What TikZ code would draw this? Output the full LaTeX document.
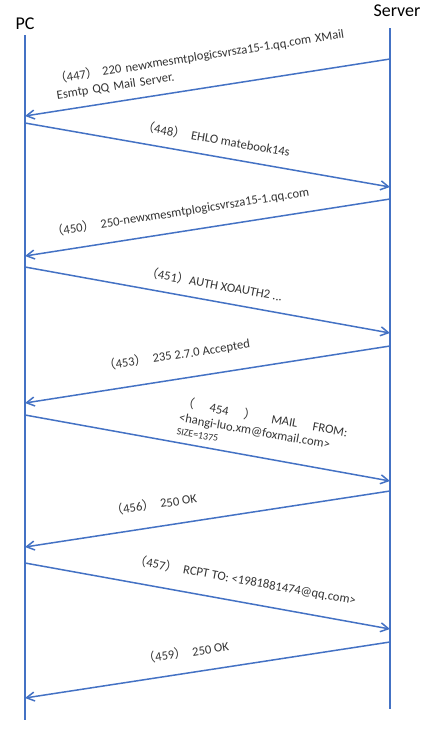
\documentclass[tikz,border=0pt]{standalone}
\usepackage{fontspec}
\setmainfont{Carlito}
\newfontfamily\cjk{Noto Sans CJK SC}
\usepackage{tikz}
\usetikzlibrary{
	arrows.meta,
	positioning,
	calc
}
\usepackage{xcolor}
\definecolor{lineblue}{HTML}{4472C4}
\newcommand{\seqno}[1]{{\cjk （}#1{\cjk ）}}

\begin{document}
\begin{tikzpicture}[
		x=1pt,
		y=-1pt,
		>={Straight Barb[length=8pt,width=9pt]},
		actor/.style={
			font=\fontsize{18}{20}\selectfont,
			inner sep=0pt
		},
		lifeline/.style={
			lineblue,
			line width=1.5pt
		},
		msg/.style={
			->,
			lineblue,
			line width=1.5pt
		},
		lbl/.style={
			sloped,
			inner sep=0pt,
			text=black!80,
			font=\fontsize{12.6}{13}\selectfont
		}
		]
		
		\useasboundingbox (0,0) rectangle (429,740);
		
		% Actors
		\node[actor] (pc) at (25,24) {PC};
		\node[actor] (server) at (397,11) {Server};
		
		% Lifelines
		\coordinate (pctop) at (25,35);
		\coordinate (pcbot) at (25,720);
		\coordinate (srvtop) at (390,28);
		\coordinate (srvbot) at (390,709);
		\draw[lifeline] (pctop) -- (pcbot);
		\draw[lifeline] (srvtop) -- (srvbot);
		
		% Message ends
		\foreach \i/\y in {1/116,2/123,3/256,4/267,5/403,6/415,7/547,8/563,9/698}
		\coordinate (p\i) at (25,\y);
		\foreach \i/\y in {1/59,2/187,3/199,4/333,5/346,6/481,7/491,8/629,9/642}
		\coordinate (s\i) at (390,\y);
		
		% Messages
		\draw[msg] (s1) -- node[lbl, pos=0.5, above=9pt, text width=300pt, align=left,
			font=\fontsize{12.6}{16}\selectfont]
			{\seqno{447} 220 newxmesmtplogicsvrsza15-1.qq.com XMail\\Esmtp QQ Mail Server.} (p1);
		
		\draw[msg] (p2) -- node[lbl, pos=0.515, above=10.5pt]
			{\seqno{448} \ EHLO matebook14s} (s2);
		
		\draw[msg] (s3) -- node[lbl, pos=0.567, above=12.5pt]
			{\seqno{450} \ 250-newxmesmtplogicsvrsza15-1.qq.com} (p3);
		
		\draw[msg] (p4) -- node[lbl, pos=0.51, above=10pt]
			{\seqno{451}AUTH XOAUTH2 ...} (s4);
		
		\draw[msg] (s5) -- node[lbl, pos=0.575, above=17pt]
			{\seqno{453} \ 235 2.7.0 Accepted} (p5);
		
		\draw[msg] (p6) -- node[lbl, pos=0.64, above=7pt, text width=170pt, align=left,
			font=\fontsize{12.6}{15}\selectfont]
			{\makebox[168pt]{{\cjk （}\hfill 454\hfill{\cjk ）}\hfill MAIL\hfill FROM:}\\
			<hangi-luo.xm@foxmail.com>\\[-2pt]
			{\fontsize{10}{11}\selectfont SIZE=1375}} (s6);
		
		\draw[msg] (s7) -- node[lbl, pos=0.638, above=16pt]
			{\seqno{456} \ 250 OK} (p7);
		
		\draw[msg] (p8) -- node[lbl, pos=0.592, above=15pt]
			{\seqno{457} \ RCPT TO: <1981881474@qq.com>} (s8);
		
		\draw[msg] (s9) -- node[lbl, pos=0.551, above=14pt]
			{\seqno{459} \ 250 OK} (p9);
		
	\end{tikzpicture}
\end{document}
